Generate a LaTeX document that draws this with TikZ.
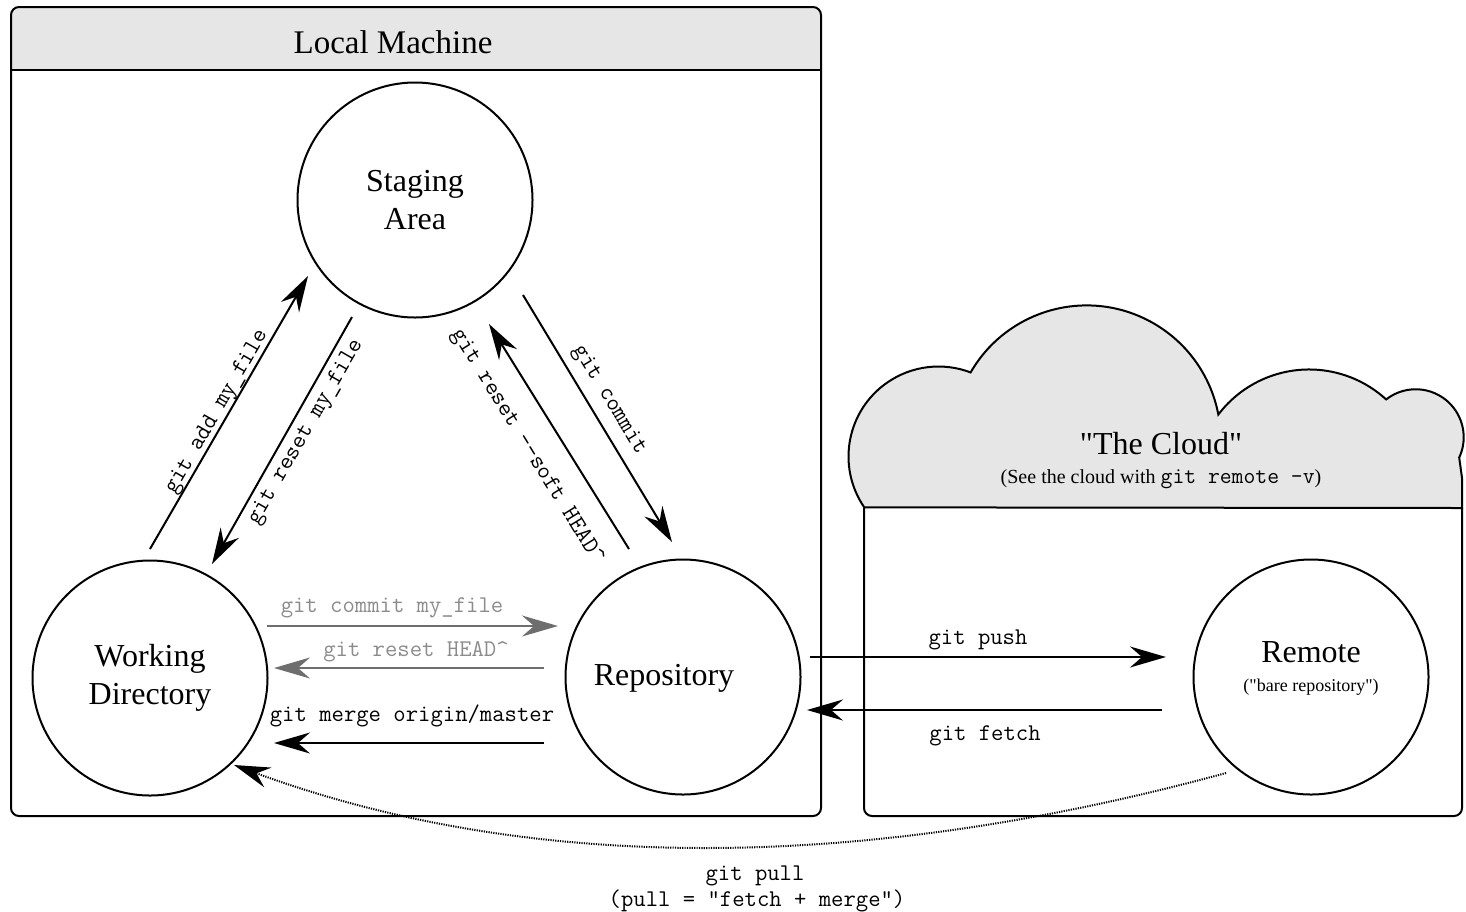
\documentclass[tikz,border=0pt]{standalone}
\usepackage{fontspec}
\setmainfont{Liberation Serif}[Ligatures=TeXOff]
\usetikzlibrary{arrows.meta}
\definecolor{headgray}{HTML}{E6E6E6}
\definecolor{linegray}{HTML}{6E6E6E}
\definecolor{textgray}{HTML}{8C8C8C}
\begin{document}
\begin{tikzpicture}[x=0.5pt,y=-0.5pt,
  box/.style={line width=1pt},
  state/.style={circle, draw, line width=1pt, minimum size=117.5pt, inner sep=0pt},
  big/.style={font=\fontsize{16}{19}\selectfont, align=center, inner sep=0pt},
  small/.style={font=\fontsize{9}{11}\selectfont, inner sep=0pt},
  cmd/.style={font=\fontsize{12}{14}\selectfont\ttfamily, inner sep=0pt},
  graycmd/.style={cmd, text=textgray},
  arr/.style={line width=1pt, -{Stealth[length=18pt,width=10.5pt,inset=6pt]}},
  grayarr/.style={arr, draw=linegray, -{Stealth[length=18pt,width=10.5pt,inset=6pt,fill=linegray]}},
  pullarr/.style={line width=1pt, dash pattern=on 0.6pt off 0.6pt, -{Stealth[length=18pt,width=10.5pt,inset=6pt]}},
]
\useasboundingbox (0,0) rectangle (1466,911);
\fill[white] (0,0) rectangle (1466,911);

% Local Machine frame
\begin{scope}
  \clip[rounded corners=4pt] (11,7) rectangle (821,816);
  \fill[headgray] (11,7) rectangle (821,70);
\end{scope}
\draw[box, rounded corners=4pt] (11,7) rectangle (821,816);
\draw[box] (11,70) -- (821,70);
\node[font=\fontsize{16.5}{20}\selectfont, inner sep=0pt] (lmtitle) at (393,42) {Local Machine};

% Cloud frame
\filldraw[fill=headgray, line width=1pt]
  ([shift={(145.6:90)}]938.5,456.5) arc[start angle=145.6, end angle=290.9, radius=90]
  arc[start angle=210, end angle=349.3, radius=134]
  arc[start angle=217.2, end angle=312.5, radius=114]
  arc[start angle=232, end angle=385, radius=48]
  -- (1462,478) -- (1462,508) -- cycle;
\draw[box, rounded corners=4pt] (864,508) -- (864,816) -- (1462,816) -- (1462,508);
\node[big] (cloudtitle) at (1161,444) {"The Cloud"};
\node[font=\fontsize{10}{12}\selectfont, inner sep=0pt] (cloudsub) at (1161,479)
  {(See the cloud with {\fontsize{11.5}{12}\selectfont\ttfamily git remote -v})};

% States
\node[state, big] (stage) at (415,200) {Staging\\Area};
\node[state, big] (work) at (150,678) {Working\\Directory};
\node[state] (repo) at (683,677) {};
\node[big] (repotext) at (664,678) {Repository};
\node[state] (remote) at (1311,677) {};
\node[big] (remotetext) at (1311,652) {Remote};
\node[small] (remotesub) at (1311,687) {("bare repository")};

% connector end points
\coordinate (addS) at (150,549);  \coordinate (addE) at (308,276);
\coordinate (rmfS) at (352,317);  \coordinate (rmfE) at (212,564);
\coordinate (comS) at (523,295);  \coordinate (comE) at (672,542);
\coordinate (softS) at (629,549); \coordinate (softE) at (489,324);
\coordinate (cmfS) at (267,626);  \coordinate (cmfE) at (558,626);
\coordinate (rhS) at (544,668);   \coordinate (rhE) at (274,668);
\coordinate (mergeS) at (544,743); \coordinate (mergeE) at (274,743);
\coordinate (pushS) at (810,657); \coordinate (pushE) at (1166,657);
\coordinate (fetchS) at (1162,710); \coordinate (fetchE) at (807,710);
\coordinate (pullS) at (1226,773); \coordinate (pullE) at (234,765);

% connectors
\draw[arr] (addS) -- (addE);
\draw[arr] (rmfS) -- (rmfE);
\draw[arr] (comS) -- (comE);
\draw[arr] (softS) -- (softE);
\draw[grayarr] (cmfS) -- (cmfE);
\draw[grayarr] (rhS) -- (rhE);
\draw[arr] (mergeS) -- (mergeE);
\draw[arr] (pushS) -- (pushE);
\draw[arr] (fetchS) -- (fetchE);
\draw[pullarr] (pullS) .. controls (855,874) and (525,872) .. (pullE);

% labels
\node[cmd, rotate=60] (laddl) at (217,412) {git add my\_file};
\node[cmd, rotate=60] (lrmf) at (306,432) {git reset my\_file};
\node[cmd, rotate=-58.8] (lcom) at (609,400) {git commit};
\node[cmd, rotate=-58.3] (lsoft) at (527,447) {git reset -{}-soft HEAD\textasciicircum};
\node[graycmd] (lcmf) at (392,608) {git commit my\_file};
\node[graycmd] (lrh) at (416,652) {git reset HEAD\textasciicircum};
\node[cmd] (lmerge) at (412,716) {git merge origin/master};
\node[cmd] (lpush) at (978,640) {git push};
\node[cmd] (lfetch) at (985,736) {git fetch};
\node[cmd] (lpull) at (755,876) {git pull};
\node[cmd] (lpull2) at (757,901) {(pull = "fetch + merge")};
\end{tikzpicture}
\end{document}
